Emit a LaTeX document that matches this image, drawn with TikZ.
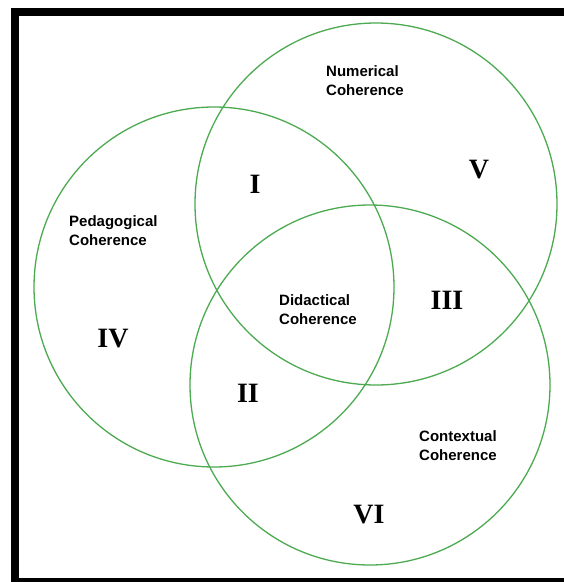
\documentclass[tikz,border=0pt]{standalone}
\usepackage{fontspec}
\setmainfont{Liberation Serif}
\newfontfamily\labelfont{Liberation Sans}
\definecolor{ringgreen}{RGB}{76,170,80}
\begin{document}
\begin{tikzpicture}[x=1pt,y=-1pt,
  ring/.style={draw=ringgreen,line width=1.3pt},
  lbl/.style={anchor=west,align=left,inner sep=0pt,font=\labelfont\bfseries\fontsize{15}{19}\selectfont},
  num/.style={inner sep=0pt,font=\bfseries\fontsize{28}{30}\selectfont}]
\useasboundingbox (0,0) rectangle (564,582);
\fill[white] (0,0) rectangle (564,582);
% frame
\fill[black] (11,8) rectangle (19,582);
\fill[black] (11,8) rectangle (564,16);
\fill[black] (11,578) rectangle (564,582);
% circle centres
\coordinate (cnum) at (376,204);
\coordinate (cped) at (214,287);
\coordinate (ccon) at (370,385);
\draw[ring] (cnum) circle[radius=181pt];
\draw[ring] (cped) circle[radius=180pt];
\draw[ring] (ccon) circle[radius=180pt];
% labels
\node[lbl] (numl) at (326,81) {Numerical\\Coherence};
\node[lbl] (pedl) at (69,230.5) {Pedagogical\\Coherence};
\node[lbl] (didl) at (279,310) {Didactical\\Coherence};
\node[lbl] (conl) at (419,446) {Contextual\\Coherence};
% region numerals
\node[num] (rI) at (255,184) {I};
\node[num] (rV) at (479,170) {V};
\node[num] (rIII) at (447,300) {III};
\node[num] (rIV) at (113,339) {IV};
\node[num] (rII) at (248,393) {II};
\node[num] (rVI) at (369,515) {VI};
\end{tikzpicture}
\end{document}
